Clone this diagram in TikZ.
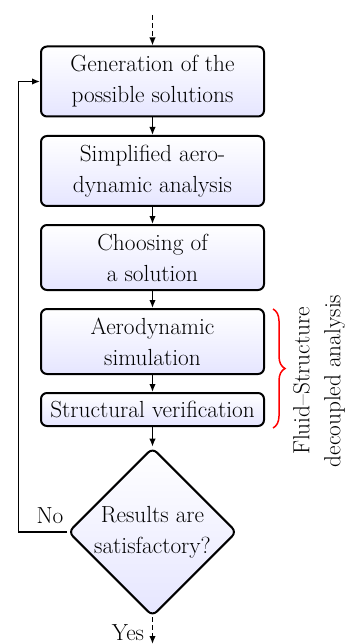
\documentclass[tikz,border=0pt]{standalone}
\usetikzlibrary{shapes.geometric,arrows.meta,decorations.pathreplacing}
\begin{document}
\begin{tikzpicture}[x=1pt,y=-1pt,
  font=\fontsize{23.3}{31}\selectfont,
  stepbox/.style={draw, line width=2pt, rounded corners=6pt, top color=white, bottom color=blue!10,
    minimum width=223pt, inner sep=0pt, align=center, text=black},
  decision/.style={draw, diamond, line width=2pt, rounded corners=6pt, top color=white, bottom color=blue!10,
    minimum width=164pt, minimum height=163pt, inner sep=0pt, align=center, text=black},
  arr/.style={line width=1.5pt, -{Latex[length=8pt,width=6.5pt]}},
  dasharr/.style={arr, dash pattern=on 5pt off 3pt}]
\useasboundingbox (0,0) rectangle (347,644);
\node[stepbox, minimum height=70pt] (b1) at (152.5,81.5) {Generation of the\\possible solutions};
\node[stepbox, minimum height=70pt] (b2) at (152.5,171) {Simplified aero-\\dynamic analysis};
\node[stepbox, minimum height=65pt] (b3) at (152.5,257.5) {Choosing of\\a solution};
\node[stepbox, minimum height=65pt] (b4) at (152.5,341.5) {Aerodynamic\\simulation};
\node[stepbox, minimum height=33pt] (b5) at (152.5,409.5) {Structural verification};
\node[decision] (dia) at (152.5,532) {Results are\\satisfactory?};
\coordinate (top) at (152.5,15);
\coordinate (bot) at (152.5,644);
\coordinate (fb) at (18.5,532);
\draw[dasharr] (top) -- (b1.north);
\draw[arr] (b1) -- (b2);
\draw[arr] (b2) -- (b3);
\draw[arr] (b3) -- (b4);
\draw[arr] (b4) -- (b5);
\draw[arr] (b5) -- (dia);
\draw[arr] (dia.west) -- (fb) |- (b1.west);
\draw[dasharr] (dia.south) -- (bot);
\node (no) at (50,516) {No};
\node[anchor=base, inner sep=0pt] (yes) at (128,640) {Yes};
\coordinate (bt) at (273,309);
\coordinate (bb) at (273,428);
\draw[red, line width=1.5pt, decorate, decoration={brace, amplitude=12pt}] (bt) -- (bb);
\node[rotate=90, align=center] (lbl) at (319,381) {Fluid--Structure\\decoupled analysis};
\end{tikzpicture}
\end{document}
